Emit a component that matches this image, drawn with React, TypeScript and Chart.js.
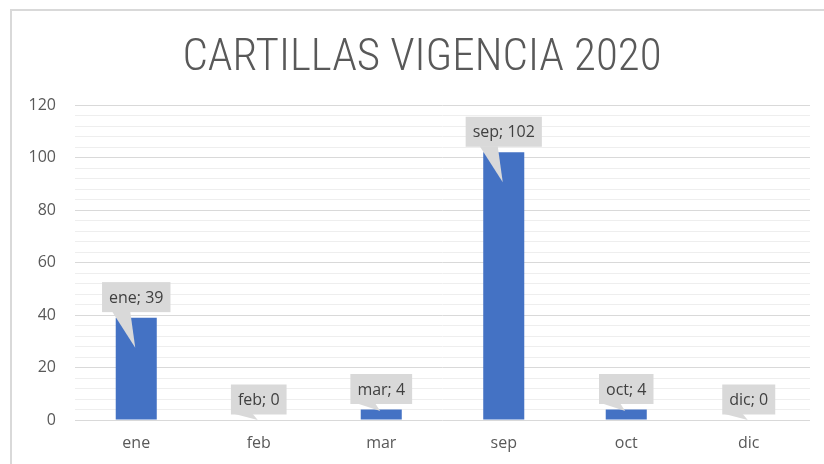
import React, { useEffect, useRef } from "react";
import { Chart, registerables } from "chart.js";

Chart.register(...registerables);

const TITLE = "CARTILLAS VIGENCIA 2020";
const categories = ["ene", "feb", "mar", "sep", "oct", "dic"];
const values = [39, 0, 4, 102, 4, 0];
const Y_MIN = 0;
const Y_MAX = 120;
const Y_STEP_MINOR = 4;
const Y_STEP_MAJOR = 20;

const FONT = '"Open Sans", "Noto Sans", sans-serif';

const framePlugin = {
  id: "frame",
  beforeDraw(chart: any) {
    const ctx = chart.ctx;
    ctx.save();
    ctx.fillStyle = "#ffffff";
    ctx.fillRect(0, 0, chart.width, chart.height);
    ctx.strokeStyle = "#d9d9d9";
    ctx.lineWidth = 2;
    ctx.strokeRect(11, 10, chart.width + 20, chart.height + 20);
    ctx.restore();
  },
  afterDraw(chart: any) {
    const ctx = chart.ctx;
    ctx.save();
    ctx.fillStyle = "#595959";
    ctx.font = '300 45px "Roboto Condensed", "Liberation Sans Narrow", Roboto, sans-serif';
    ctx.textAlign = "center";
    ctx.textBaseline = "alphabetic";
    ctx.fillText(TITLE, 422, 70);
    ctx.restore();
  },
};

const calloutPlugin = {
  id: "callouts",
  afterDatasetsDraw(chart: any) {
    const ctx = chart.ctx;
    const meta = chart.getDatasetMeta(0);
    const base = chart.scales.y.getPixelForValue(0);
    ctx.save();
    ctx.font = "16px " + FONT;
    meta.data.forEach((bar: any, i: number) => {
      const { x, y } = bar.getProps(["x", "y"], true);
      const text = `${categories[i]}; ${values[i]}`;
      const tw = ctx.measureText(text).width;
      const boxW = tw + 14;
      const boxH = 30;
      const top = Math.min(y, base);
      const boxBottom = top - 5.5;
      const h = base - top;
      const tipY = top + (h > 30 ? 30 : h * 0.15);
      ctx.fillStyle = "#d9d9d9";
      ctx.fillRect(x - boxW / 2, boxBottom - boxH, boxW, boxH);
      ctx.beginPath();
      ctx.moveTo(x - 24, boxBottom - 0.5);
      ctx.lineTo(x - 6, boxBottom - 0.5);
      ctx.lineTo(x - 1, tipY);
      ctx.closePath();
      ctx.fill();
      ctx.fillStyle = "#404040";
      ctx.textAlign = "center";
      ctx.textBaseline = "middle";
      ctx.fillText(text, x, boxBottom - boxH / 2 + 1);
    });
    ctx.restore();
  },
};

export default function App() {
  const ref = useRef<HTMLCanvasElement | null>(null);
  useEffect(() => {
    if (!ref.current) return;
    const chart = new Chart(ref.current, {
      type: "bar",
      data: {
        labels: categories,
        datasets: [
          {
            data: values,
            backgroundColor: "#4472C4",
            borderWidth: 0,
            categoryPercentage: 1,
            barPercentage: 0.335,
          },
        ],
      },
      options: {
        animation: false,
        responsive: false,
        maintainAspectRatio: false,
        layout: { padding: { left: 0, right: 14, top: 105, bottom: 0 } },
        plugins: {
          legend: { display: false },
          title: { display: false },
          tooltip: { enabled: false },
        },
        scales: {
          x: {
            grid: { display: false, drawTicks: false },
            border: { display: false },
            ticks: { color: "#595959", font: { family: FONT, size: 16 }, padding: 14 },
            afterFit(s: any) {
              s.height = 44;
            },
          },
          y: {
            min: Y_MIN,
            max: Y_MAX,
            border: { display: false },
            grid: {
              drawTicks: false,
              lineWidth: 1,
              color: (c: any) =>
                c.tick && c.tick.value % Y_STEP_MAJOR === 0 ? "#d9d9d9" : "#eeeeee",
            },
            ticks: {
              stepSize: Y_STEP_MINOR,
              autoSkip: false,
              color: "#595959",
              font: { family: FONT, size: 16 },
              padding: 19,
              callback: (v: any) => (Number(v) % Y_STEP_MAJOR === 0 ? String(v) : ""),
            },
            afterFit(s: any) {
              s.width = 75;
            },
          },
        },
      },
      plugins: [framePlugin, calloutPlugin],
    });
    return () => chart.destroy();
  }, []);
  return (
    <div style={{ position: "fixed", left: 0, top: 0, width: 824, height: 464 }}>
      <canvas ref={ref} width={824} height={464} style={{ width: 824, height: 464 }} />
    </div>
  );
}
